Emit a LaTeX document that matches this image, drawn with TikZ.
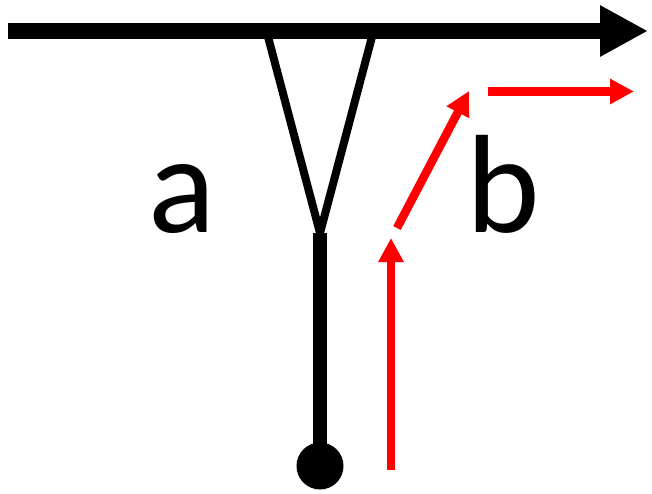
\documentclass[tikz,border=0pt]{standalone}
\usepackage{fontspec}
\setmainfont{Carlito}
\usetikzlibrary{arrows.meta}
\begin{document}
\begin{tikzpicture}[x=1pt,y=-1pt,
  axis/.style={line width=16pt,-{Triangle[length=48pt,width=48pt]}},
  vline/.style={line width=8pt},
  stem/.style={line width=14pt},
  redarrow/.style={red,line width=8.5pt,-{Triangle[length=24pt,width=24pt]}},
  lbl/.style={inner sep=0pt,anchor=base,font=\fontsize{140}{140}\selectfont}]
\useasboundingbox (0,0) rectangle (652,494);
\coordinate (axL) at (8,31);
\coordinate (axR) at (648,31);
\coordinate (vL) at (267,33);
\coordinate (vR) at (373,33);
\coordinate (vB) at (320,233);
\coordinate (sB) at (320,466);
\coordinate (r1a) at (391,470);
\coordinate (r1b) at (391,238);
\coordinate (r2a) at (397,228);
\coordinate (r2b) at (469,91);
\coordinate (r3a) at (488,91.5);
\coordinate (r3b) at (634,91.5);
\draw[axis] (axL) -- (axR);
\draw[vline] (vL) -- (vB) -- (vR);
\draw[stem] (vB) -- (sB);
\fill (sB) circle[radius=23.5];
\draw[redarrow] (r1a) -- (r1b);
\draw[redarrow] (r2a) -- (r2b);
\draw[redarrow] (r3a) -- (r3b);
\node[lbl] (a) at (182,233) {a};
\node[lbl] (b) at (503,233) {b};
\end{tikzpicture}
\end{document}
